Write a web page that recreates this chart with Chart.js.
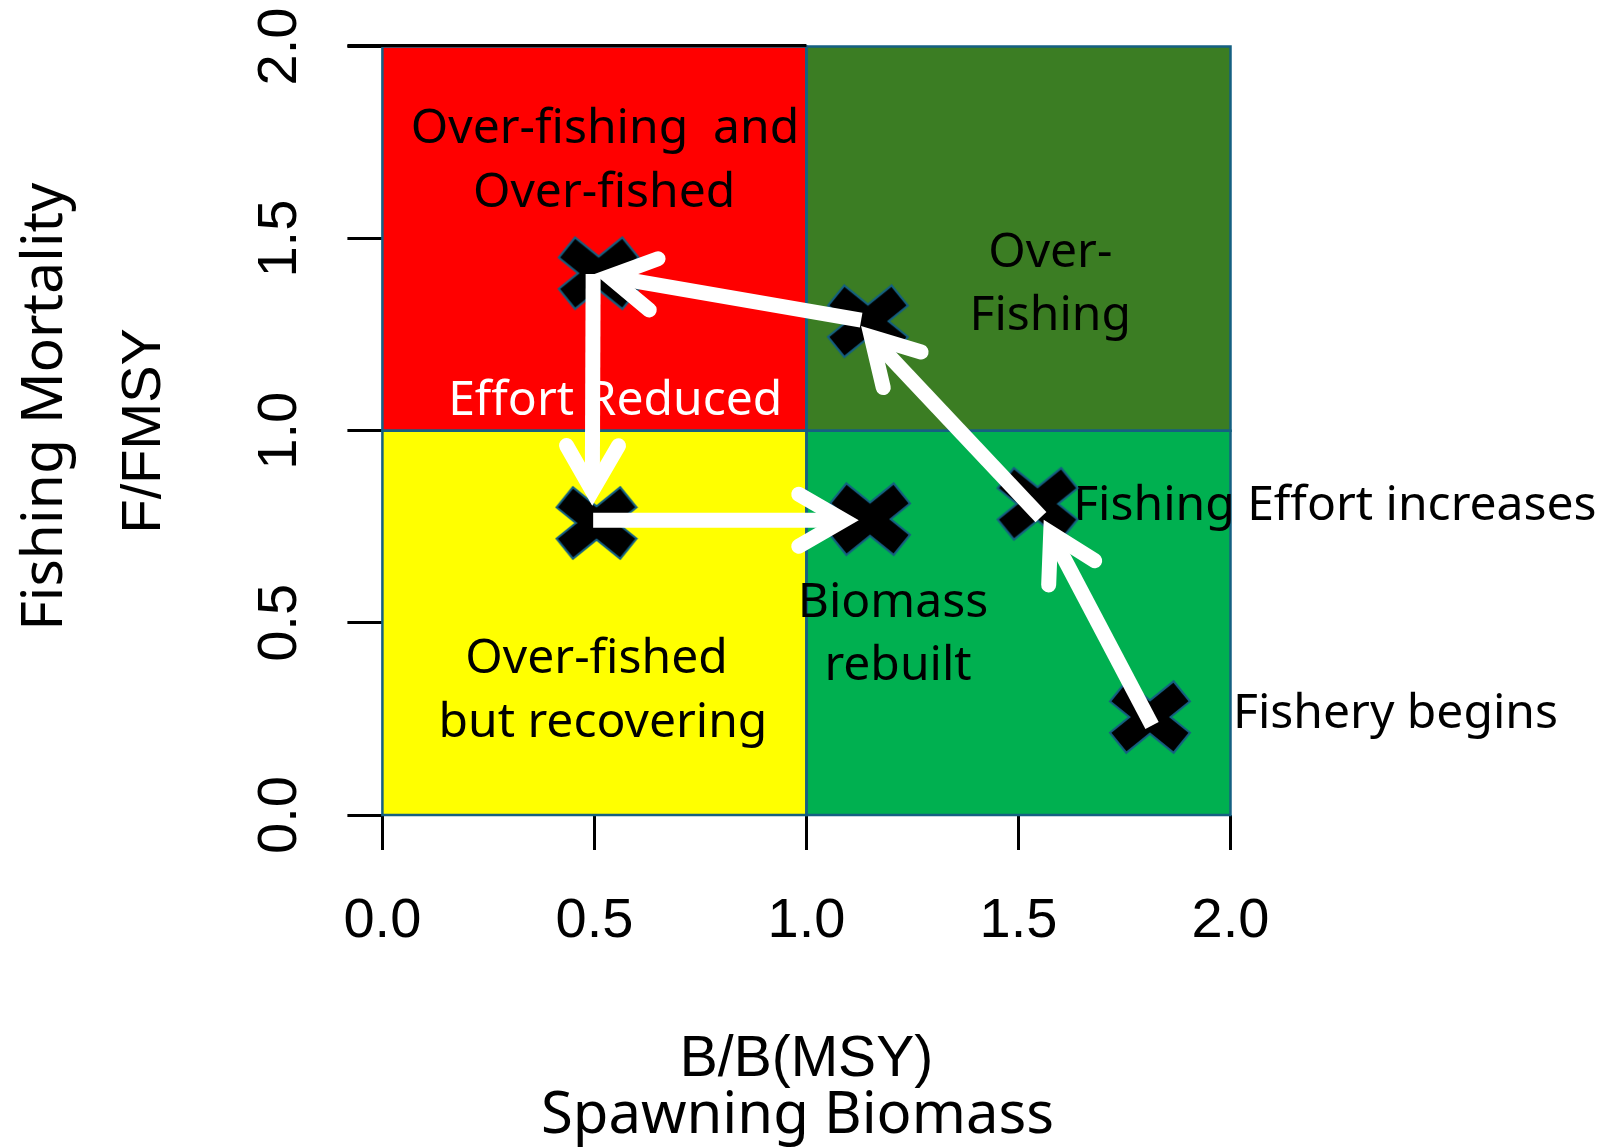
<!DOCTYPE html>
<html lang="en">
<head>
    <meta charset="UTF-8">
    <title>Fishery Status Plot</title>
    <style>
        html, body {
            margin: 0;
            padding: 0;
            background: #ffffff;
        }

        .chart-box {
            width: 1612px;
            height: 1147px;
            position: relative;
        }
    </style>
    <script src="https://cdn.jsdelivr.net/npm/chart.js"></script>
</head>
<body>

    <div class="chart-box">
        <canvas id="kobeChart"></canvas>
    </div>

    <script>
        // axis ticks and titles
        var tickValues = [0, 0.5, 1, 1.5, 2];
        var xTitle = ['B/B(MSY)', 'Spawning Biomass'];
        var yTitle = ['Fishing Mortality', 'F/FMSY'];

        // quadrants (B range, F range)
        var zoneB0 = [0, 1, 0, 1];
        var zoneB1 = [1, 2, 1, 2];
        var zoneF0 = [1, 1, 0, 0];
        var zoneF1 = [2, 2, 1, 1];

        // stages of the fishery (crosses)
        var stageB = [1.81, 1.545, 1.145, 0.51, 0.505, 1.15];
        var stageF = [0.255, 0.81, 1.285, 1.41, 0.76, 0.77];

        // arrows between stages
        var arrowFromB = [1.815, 1.553, 1.129, 0.497, 0.497];
        var arrowFromF = [0.233, 0.775, 1.288, 1.408, 0.767];
        var arrowToB = [1.576, 1.153, 0.535, 0.495, 1.088];
        var arrowToF = [0.734, 1.244, 1.401, 0.844, 0.767];

        // text inside the quadrants (centre, baseline)
        var zoneLabels = ['Over-fishing  and', 'Over-fished', 'Over-', 'Fishing', 'Effort Reduced',
                          'Biomass', 'rebuilt', 'Over-fished', 'but recovering'];
        var zoneLabelB = [0.525, 0.523, 1.575, 1.575, 0.549, 1.204, 1.216, 0.505, 0.520];
        var zoneLabelF = [1.748, 1.583, 1.427, 1.262, 1.041, 0.516, 0.351, 0.369, 0.203];

        // text to the right of the marks (left edge, baseline)
        var sideLabels = ['Fishing Effort increases', 'Fishery begins'];
        var sideLabelB = [1.629, 2.006];
        var sideLabelF = [0.767, 0.226];

        var zoneColors = ['#ff0000', '#3b7d23', '#ffff00', '#00b050'];
        var outline = '#156082';
        var labelFont = '"Noto Sans", sans-serif';
        var axisFont = '"Liberation Sans", Arial, sans-serif';

        // bold X marker with thin blue outline
        function makeCross() {
            var c = document.createElement('canvas');
            c.width = 84;
            c.height = 76;
            var g = c.getContext('2d');
            var cx = 42, cy = 38;
            g.lineCap = 'butt';
            g.strokeStyle = outline;
            g.lineWidth = 28;
            g.beginPath();
            g.moveTo(cx - 32.6, cy - 26.3); g.lineTo(cx + 32.6, cy + 26.3);
            g.moveTo(cx - 32.6, cy + 26.3); g.lineTo(cx + 32.6, cy - 26.3);
            g.stroke();
            g.strokeStyle = '#000';
            g.lineWidth = 24;
            g.beginPath();
            g.moveTo(cx - 31, cy - 25); g.lineTo(cx + 31, cy + 25);
            g.moveTo(cx - 31, cy + 25); g.lineTo(cx + 31, cy - 25);
            g.stroke();
            return c;
        }

        var overlayPlugin = {
            id: 'overlay',
            beforeDatasetsDraw: function (chart) {
                var ctx = chart.ctx;
                var x = chart.scales.x, y = chart.scales.y;
                ctx.save();
                for (var i = 0; i < zoneB0.length; i++) {
                    var l = x.getPixelForValue(zoneB0[i]), r = x.getPixelForValue(zoneB1[i]);
                    var t = y.getPixelForValue(zoneF1[i]), b = y.getPixelForValue(zoneF0[i]);
                    ctx.fillStyle = zoneColors[i];
                    ctx.fillRect(l, t, r - l, b - t);
                }
                ctx.strokeStyle = outline;
                ctx.lineWidth = 2.5;
                for (var j = 0; j < zoneB0.length; j++) {
                    var l2 = x.getPixelForValue(zoneB0[j]), r2 = x.getPixelForValue(zoneB1[j]);
                    var t2 = y.getPixelForValue(zoneF1[j]), b2 = y.getPixelForValue(zoneF0[j]);
                    ctx.strokeRect(l2, t2, r2 - l2, b2 - t2);
                }
                // black frame piece left over at the top of the red zone
                ctx.strokeStyle = '#000';
                ctx.lineWidth = 3;
                ctx.beginPath();
                ctx.moveTo(x.left - 35, y.top - 1);
                ctx.lineTo(x.getPixelForValue(1), y.top - 1);
                ctx.stroke();

                ctx.font = '48px ' + labelFont;
                ctx.textBaseline = 'alphabetic';
                ctx.textAlign = 'center';
                for (var k = 0; k < zoneLabels.length; k++) {
                    ctx.fillStyle = zoneLabels[k] === 'Effort Reduced' ? '#ffffff' : '#000000';
                    ctx.fillText(zoneLabels[k], x.getPixelForValue(zoneLabelB[k]), y.getPixelForValue(zoneLabelF[k]));
                }
                ctx.textAlign = 'left';
                ctx.fillStyle = '#000';
                for (var m = 0; m < sideLabels.length; m++) {
                    ctx.fillText(sideLabels[m], x.getPixelForValue(sideLabelB[m]), y.getPixelForValue(sideLabelF[m]));
                }
                ctx.restore();
            },
            afterDatasetsDraw: function (chart) {
                // open arrow heads at the end of each arrow line
                var ctx = chart.ctx;
                var x = chart.scales.x, y = chart.scales.y;
                var len = 52, spread = Math.PI / 6;
                ctx.save();
                ctx.strokeStyle = '#ffffff';
                ctx.lineWidth = 15;
                ctx.lineCap = 'round';
                ctx.lineJoin = 'miter';
                for (var i = 0; i < arrowFromB.length; i++) {
                    var x1 = x.getPixelForValue(arrowFromB[i]), y1 = y.getPixelForValue(arrowFromF[i]);
                    var x2 = x.getPixelForValue(arrowToB[i]), y2 = y.getPixelForValue(arrowToF[i]);
                    var ang = Math.atan2(y2 - y1, x2 - x1) + Math.PI;
                    ctx.beginPath();
                    ctx.moveTo(x2 + len * Math.cos(ang - spread), y2 + len * Math.sin(ang - spread));
                    ctx.lineTo(x2, y2);
                    ctx.lineTo(x2 + len * Math.cos(ang + spread), y2 + len * Math.sin(ang + spread));
                    ctx.stroke();
                }
                ctx.restore();
            },
            afterDraw: function (chart) {
                var ctx = chart.ctx;
                var area = chart.chartArea;
                ctx.save();
                ctx.fillStyle = '#000';
                ctx.textAlign = 'center';
                ctx.textBaseline = 'alphabetic';
                ctx.font = '57px ' + labelFont;
                ctx.translate(62, (area.top + area.bottom) / 2 - 24);
                ctx.rotate(-Math.PI / 2);
                ctx.fillText(yTitle[0], 0, 0);
                ctx.restore();

                ctx.save();
                ctx.fillStyle = '#000';
                ctx.textAlign = 'center';
                ctx.textBaseline = 'alphabetic';
                ctx.font = '58px ' + labelFont;
                ctx.fillText(xTitle[1], (area.left + area.right) / 2 - 9, chart.height - 14);
                ctx.restore();
            }
        };

        var crossImg = makeCross();

        var datasets = [];
        for (var i = 0; i < arrowFromB.length; i++) {
            datasets.push({
                label: 'arrow ' + (i + 1),
                data: [{ x: arrowFromB[i], y: arrowFromF[i] }, { x: arrowToB[i], y: arrowToF[i] }],
                showLine: true,
                borderColor: '#ffffff',
                borderWidth: 15,
                borderCapStyle: 'butt',
                pointRadius: 0,
                order: 1
            });
        }
        datasets.push({
            label: 'stages',
            data: stageB.map(function (b, i) { return { x: b, y: stageF[i] }; }),
            pointStyle: crossImg,
            pointRadius: 40,
            showLine: false,
            order: 2
        });

        function fixTicks(scale) {
            scale.ticks = tickValues.map(function (v) { return { value: v }; });
        }

        new Chart(document.getElementById('kobeChart'), {
            type: 'scatter',
            data: { datasets: datasets },
            plugins: [overlayPlugin],
            options: {
                responsive: true,
                maintainAspectRatio: false,
                animation: false,
                layout: {
                    padding: { left: 0, top: 46.5, right: 381.5, bottom: 0 }
                },
                plugins: {
                    legend: { display: false },
                    tooltip: { enabled: false }
                },
                scales: {
                    x: {
                        type: 'linear',
                        min: 0,
                        max: 2,
                        afterBuildTicks: fixTicks,
                        afterFit: function (scale) {
                            scale.height = 332;
                            scale.paddingLeft = 0;
                            scale.paddingRight = 0;
                        },
                        border: { display: false },
                        grid: {
                            drawOnChartArea: false,
                            tickLength: 35,
                            tickColor: '#000',
                            tickWidth: 3
                        },
                        ticks: {
                            color: '#000',
                            padding: 38,
                            maxRotation: 0,
                            font: { family: axisFont, size: 56 },
                            callback: function (v) { return Number(v).toFixed(1); }
                        },
                        title: {
                            display: true,
                            text: xTitle[0],
                            color: '#000',
                            font: { family: axisFont, size: 57 },
                            padding: { top: 0, bottom: 53 }
                        }
                    },
                    y: {
                        type: 'linear',
                        min: 0,
                        max: 2,
                        afterBuildTicks: fixTicks,
                        afterFit: function (scale) {
                            scale.width = 382.4;
                            scale.paddingTop = 0;
                            scale.paddingBottom = 0;
                        },
                        border: { display: false },
                        grid: {
                            drawOnChartArea: false,
                            tickLength: 35,
                            tickColor: '#000',
                            tickWidth: 3
                        },
                        ticks: {
                            color: '#000',
                            padding: 28,
                            minRotation: 90,
                            maxRotation: 90,
                            crossAlign: 'center',
                            font: { family: axisFont, size: 56 },
                            callback: function (v) { return Number(v).toFixed(1); }
                        },
                        title: {
                            display: true,
                            text: yTitle[1],
                            color: '#000',
                            font: { family: axisFont, size: 56 },
                            padding: { top: 111, bottom: 0 }
                        }
                    }
                }
            }
        });
    </script>

</body>
</html>
